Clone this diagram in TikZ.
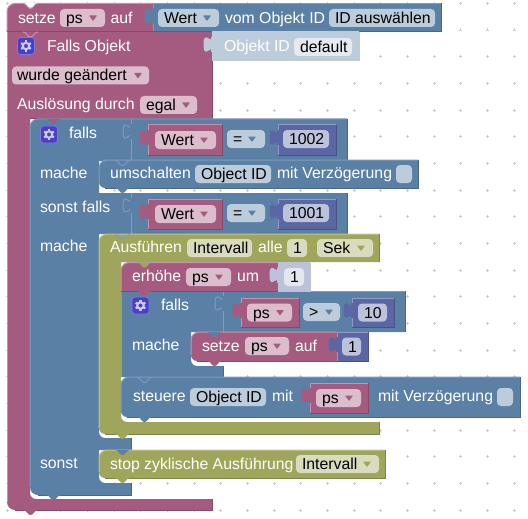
\documentclass[tikz,border=0pt]{standalone}
\usepackage{fontspec}
\setmainfont{Liberation Sans}
\definecolor{pk}{HTML}{A55B80}\colorlet{pkL}{pk!65!white}\colorlet{pkD}{pk!80!black}\definecolor{pkF}{HTML}{DBBDCC}
\definecolor{bl}{HTML}{5B80A5}\colorlet{blL}{bl!78!white}\colorlet{blD}{bl!80!black}\definecolor{blF}{HTML}{BDCCDB}
\definecolor{ol}{HTML}{9FA65B}\colorlet{olL}{ol!65!white}\colorlet{olD}{ol!80!black}\definecolor{olF}{HTML}{D8DBBD}
\definecolor{lv}{HTML}{5B67A5}\colorlet{lvL}{lv!65!white}\colorlet{lvD}{lv!80!black}\definecolor{lvF}{HTML}{BDC2DB}
\definecolor{ds}{HTML}{BDCCDB}\colorlet{dsL}{ds}\colorlet{dsD}{ds}\definecolor{dsF}{HTML}{E4EAF0}
\definecolor{sh}{HTML}{BDC2DB}\colorlet{shL}{sh}\colorlet{shD}{sh}\definecolor{shF}{HTML}{E4E6F0}
\definecolor{gearbg}{HTML}{4A40C8}
\newcount\nn
\tikzset{
  lbl/.style={inner sep=0pt,outer sep=0pt,anchor=base west,font=\fontsize{15.8}{18}\selectfont,text=white},
  fldtxt/.style={lbl,text=black},
  edge/.style={line width=1pt}
}
% text on a block
\newcommand\lbl[3]{\global\advance\nn by 1 \node[lbl] (n\the\nn) at (#1,#2+5.5) {#3};}
% field: x1 x2 yc colour textx text
\newcommand\fld[6]{\fill[#4F,rounded corners=4pt] (#1,#3-9) rectangle (#2,#3+9);
  \global\advance\nn by 1 \node[fldtxt] (n\the\nn) at (#5,#3+5.5) {#6};}
% dropdown triangle
\newcommand\dd[3]{\fill[#3,rounded corners=0.5pt] (#1-4,#2-2.5) -- (#1+4,#2-2.5) -- (#1,#2+3) -- cycle;}
% statement tab pointing down
\newcommand\tabd[3]{\fill[#1] (#2,#3) .. controls (#2+4,#3) and (#2+4,#3+5) .. (#2+7.5,#3+5) .. controls (#2+11,#3+5) and (#2+11,#3) .. (#2+15,#3) -- cycle;}
\newcommand\tabl[3]{\draw[#1L,edge] (#2,#3) .. controls (#2+4,#3) and (#2+4,#3+5) .. (#2+7.5,#3+5) .. controls (#2+11,#3+5) and (#2+11,#3) .. (#2+15,#3);}
% puzzle tab on a left edge: #4 = outline colour
\newcommand\vtab[4]{\filldraw[fill=#1,draw=#4,edge] (#2,#3+5) .. controls (#2,#3+15) and (#2-8,#3-3) .. (#2-8,#3+12.5) .. controls (#2-8,#3+28) and (#2,#3+10) .. (#2,#3+20) -- cycle;
  \fill[#1] (#2-0.6,#3+5) rectangle (#2+1.5,#3+20);}
% value block with puzzle tab
\newcommand\val[5]{\fill[#1] (#2,#3) rectangle (#4,#5);
  \draw[#1L,edge] (#2,#5) -- (#2,#3) -- (#4,#3);
  \draw[#1D,edge] (#4,#3) -- (#4,#5) -- (#2,#5);
  \vtab{#1}{#2}{#3}{#1}}
% statement block: rounded top left, square bottom
\newcommand\stm[5]{\fill[#1] (#2,#5) -- (#2,#3+8) arc[start angle=180,end angle=270,radius=8] -- (#4,#3) -- (#4,#5) -- cycle;
  \draw[#1L,edge] (#2,#5) -- (#2,#3+8) arc[start angle=180,end angle=270,radius=8] -- (#4,#3);
  \draw[#1D,edge] (#4,#3) -- (#4,#5) -- (#2,#5);}
% statement block: rounded top left and bottom left
\newcommand\stmr[5]{\fill[#1] (#2+6,#5) arc[start angle=90,end angle=180,radius=6] -- (#2,#3+8) arc[start angle=180,end angle=270,radius=8] -- (#4,#3) -- (#4,#5) -- cycle;
  \draw[#1L,edge] (#2,#5-6) -- (#2,#3+8) arc[start angle=180,end angle=270,radius=8] -- (#4,#3);
  \draw[#1D,edge] (#4,#3) -- (#4,#5) -- (#2+6,#5);}
\newcommand\gear[2]{\filldraw[fill=gearbg,draw=gearbg!70!white,line width=0.7pt,rounded corners=3pt] (#1-8.5,#2-8.5) rectangle (#1+8.5,#2+8.5);
  \foreach \a in {0,60,...,300}{\draw[white!80!blue,line width=2.2pt] (#1,#2) ++(\a+30:3) -- ++(\a+30:2.6);}
  \draw[white!80!blue,line width=2pt] (#1,#2) circle[radius=3.2];}
\begin{document}
\begin{tikzpicture}[x=1pt,y=-1pt]
\useasboundingbox (0,0) rectangle (528,519);
\fill[white] (0,0) rectangle (528,519);
\foreach \i in {0,...,19}{\foreach \j in {0,...,19}{
  \draw[gray!40,line width=0.7pt] ({7.33+26.67*\i-1.5},{3.33+26.67*\j}) -- ({7.33+26.67*\i+1.5},{3.33+26.67*\j});
  \draw[gray!40,line width=0.7pt] ({7.33+26.67*\i},{3.33+26.67*\j-1.5}) -- ({7.33+26.67*\i},{3.33+26.67*\j+1.5});
}}
% ---- outer pink trigger block
\fill[pk] (7,32) -- (212,32) -- (212,119) -- (30,119) -- (30,493) arc[start angle=180,end angle=90,radius=6] -- (212,499) -- (212,510) -- (15,510) arc[start angle=90,end angle=180,radius=8] -- cycle;
\draw[pkL,edge] (7,502) -- (7,32) -- (212,32);
\draw[pkD,edge] (212,32) -- (212,119) -- (30,119);
\draw[pkD,edge] (212,499) -- (212,510) -- (15,510);
\tabd{pk}{23}{510}
% setze + Wert
\stm{pk}{7}{3.5}{153}{32}
\tabd{white}{23}{3}
\tabl{pk}{23}{3.5}
\tabd{pk}{23}{32}
\tabl{pk}{23}{32}
\val{bl}{153}{3.5}{441}{32}
\val{ds}{212}{32}{359}{61}
\lbl{18}{18}{setze}
\fld{60}{105}{18}{pk}{66}{ps}\dd{93}{18}{pk}
\lbl{110.5}{18}{auf}
\fld{158}{219}{18}{bl}{164}{Wert}\dd{207}{18}{bl}
\lbl{225}{18}{vom Objekt ID}
\fld{329}{435}{18}{bl}{335}{ID auswählen}
\gear{26}{46}
\lbl{47}{46}{Falls Objekt}
\lbl{224}{46}{Objekt ID}
\fld{294}{352}{47}{ds}{300}{default}
\fld{12}{149}{75.5}{pk}{17}{wurde geändert}\dd{138}{75.5}{pk}
\lbl{17}{104}{Auslösung durch}
\fld{140}{197}{105}{pk}{146}{egal}\dd{186}{105}{pk}
% ---- outer blue falls block
\fill[bl] (30,127) arc[start angle=180,end angle=270,radius=8] -- (347,119) -- (347,161) -- (99,161) -- (99,193) -- (347,193) -- (347,234) -- (99,234) -- (99,432) arc[start angle=180,end angle=90,radius=6] -- (131,438) -- (131,450) -- (99,450) -- (99,477) arc[start angle=180,end angle=90,radius=6] -- (131,483) -- (131,495) -- (38,495) arc[start angle=90,end angle=180,radius=8] -- cycle;
\draw[blL,edge] (30,487) -- (30,127) arc[start angle=180,end angle=270,radius=8] -- (347,119);
\draw[blD,edge] (347,119) -- (347,161);
\draw[blD,edge] (347,193) -- (347,234);
\draw[blD,edge] (131,438) -- (131,450);
\draw[blD,edge] (131,483) -- (131,495) -- (38,495);
\draw[blL,edge] (131,119) -- (131,161);
\draw[blL,edge] (131,193) -- (131,234);
\vtab{bl}{131}{119}{blL}
\vtab{bl}{131}{193}{blL}
\tabd{pk}{46}{119}
\tabd{bl}{46}{495}
\gear{49}{134.5}
\lbl{69}{133}{falls}
\lbl{40}{173}{mache}
\lbl{40}{207}{sonst falls}
\lbl{40}{246}{mache}
\lbl{40}{463}{sonst}
% Wert = 1002
\val{pk}{148}{125}{222}{155}
\fld{155}{216}{140}{pk}{161}{Wert}\dd{204}{140}{pk}
\fld{227}{265}{139}{bl}{233}{=}\dd{252}{139}{bl}
\val{lv}{278}{125}{336}{155}
\fld{283}{329}{139}{lv}{289}{1002}
% umschalten
\stmr{bl}{99}{160}{418.5}{188}
\tabl{bl}{115}{160.5}
\tabd{bl}{115}{188}
\lbl{110}{173}{umschalten}
\fld{195}{271}{174}{bl}{201}{Object ID}
\lbl{277}{173}{mit Verzögerung}
\fill[blF,rounded corners=4pt] (396,165) rectangle (412,183);
% Wert = 1001
\val{pk}{148}{199}{222}{229}
\fld{155}{216}{214}{pk}{161}{Wert}\dd{204}{214}{pk}
\fld{227}{265}{213}{bl}{233}{=}\dd{252}{213}{bl}
\val{lv}{278}{199}{336}{229}
\fld{283}{329}{213}{lv}{289}{1001}
% ---- olive interval block
\fill[ol] (99,242) arc[start angle=180,end angle=270,radius=8] -- (379,234) -- (379,262) -- (121,262) -- (121,416) arc[start angle=180,end angle=90,radius=6] -- (379,422) -- (379,434) -- (105,434) arc[start angle=90,end angle=180,radius=6] -- cycle;
\draw[olL,edge] (99,428) -- (99,242) arc[start angle=180,end angle=270,radius=8] -- (379,234);
\draw[olD,edge] (379,234) -- (379,262);
\draw[olD,edge] (379,422) -- (379,434) -- (105,434);
\tabl{bl}{115}{234.5}
\tabd{ol}{115}{434}
\lbl{110}{247}{Ausführen}
\fld{187}{252}{248}{ol}{193}{Intervall}
\lbl{258}{247}{alle}
\fld{287}{307}{248}{ol}{293}{1}
\fld{317}{373}{248}{ol}{323}{Sek}\dd{361}{248}{ol}
% ---- inner falls (drawn before erhöhe so the tab overlaps)
\fill[bl] (121,291) -- (405,291) -- (405,332) -- (191,332) -- (191,360) arc[start angle=180,end angle=90,radius=6] -- (223,366) -- (223,377) -- (121,377) -- cycle;
\draw[blL,edge] (121,377) -- (121,291) -- (405,291);
\draw[blD,edge] (405,291) -- (405,332);
\draw[blD,edge] (223,366) -- (223,377);
\draw[blL,edge] (223,291) -- (223,332);
\vtab{bl}{223}{291}{blL}
% erhöhe
\stm{pk}{121}{262.5}{280}{291}
\tabd{ol}{137}{262.5}
\tabd{pk}{137}{291}
\val{sh}{278}{262.5}{310}{291}
\lbl{132}{276}{erhöhe}
\fld{186}{231}{277}{pk}{192}{ps}\dd{219}{277}{pk}
\lbl{237}{276}{um}
\fld{284}{304}{277}{sh}{290}{1}
\gear{140.5}{305.5}
\lbl{161}{305}{falls}
\lbl{132}{345}{mache}
\val{pk}{241}{298}{299}{327}
\fld{247}{292}{312.5}{pk}{253}{ps}\dd{280}{312.5}{pk}
\fld{303}{340}{312}{bl}{309}{>}\dd{329}{312}{bl}
\val{lv}{352}{298}{394}{327}
\fld{358}{387}{312.5}{lv}{364}{10}
% setze ps auf 1
\stmr{pk}{191}{332}{337}{361}
\tabd{bl}{207}{332}
\tabd{pk}{207}{361}
\lbl{202}{346}{setze}
\fld{245}{289}{346}{pk}{251}{ps}\dd{277}{346}{pk}
\lbl{295}{346}{auf}
\val{lv}{337}{332}{368}{361}
\fld{342}{361}{346.5}{lv}{348}{1}
% steuere
\stmr{bl}{121}{377}{520}{417}
\tabl{bl}{137}{377.5}
\tabd{bl}{137}{417}
\lbl{133}{396}{steuere}
\fld{190}{266}{397}{bl}{196}{Object ID}
\lbl{272}{396}{mit}
\val{pk}{310}{383}{368}{413}
\fld{316}{361}{398}{pk}{322}{ps}\dd{349}{398}{pk}
\lbl{378}{396}{mit Verzögerung}
\fill[blF,rounded corners=4pt] (497,388) rectangle (513,406);
% stop
\stmr{ol}{99}{450}{385}{478}
\tabd{bl}{115}{450}
\tabd{ol}{115}{478}
\lbl{110}{464}{stop zyklische Ausführung}
\fld{296}{379}{464}{ol}{302}{Intervall}\dd{367}{464}{ol}
\end{tikzpicture}
\end{document}
